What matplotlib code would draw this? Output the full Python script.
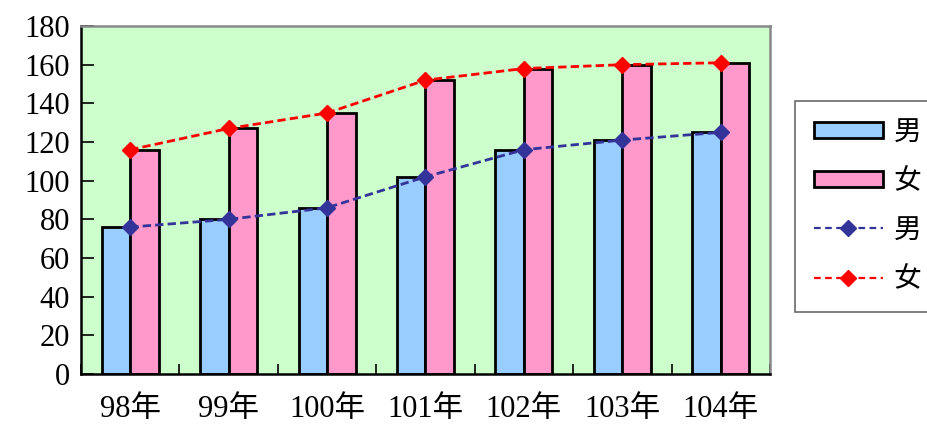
import matplotlib
matplotlib.use("Agg")
import matplotlib.pyplot as plt
import numpy as np
from matplotlib.patches import Patch
from matplotlib.lines import Line2D

categories = ["98年", "99年", "100年", "101年", "102年", "103年", "104年"]
male = [76, 80, 86, 102, 116, 121, 125]
female = [116, 127, 135, 152, 158, 160, 161]
yticks = [0, 20, 40, 60, 80, 100, 120, 140, 160, 180]

FAM = ["Liberation Serif", "Noto Sans CJK TC", "DejaVu Sans"]
plt.rcParams["font.family"] = FAM

fig = plt.figure(figsize=(9.27, 4.28), dpi=100)
ax = fig.add_axes([81 / 927, 1 - 374 / 428, (770 - 81) / 927, (374 - 26) / 428])
ax.set_facecolor("#CCFFCC")

x = np.arange(len(categories))
w = 0.29
ax.bar(x - w / 2, male, width=w, color="#99CCFF", edgecolor="black", linewidth=2, zorder=2)
ax.bar(x + w / 2, female, width=w, color="#FF99CC", edgecolor="black", linewidth=2, zorder=2)
ax.plot(x, male, linestyle="--", color="#333399", linewidth=2, marker="D", markersize=8,
        zorder=3, dashes=(3, 1.5))
ax.plot(x, female, linestyle="--", color="#FF0000", linewidth=2, marker="D", markersize=8,
        zorder=3, dashes=(3, 1.5))

ax.set_xlim(-0.5, len(categories) - 0.5)
ax.set_ylim(0, 180)
ax.set_yticks(yticks)
ax.set_yticklabels([str(v) for v in yticks], fontsize=22)
ax.set_xticks(x)
ax.set_xticklabels(categories, fontsize=22)
ax.tick_params(axis="x", length=0, pad=15)
ax.set_xticks(np.arange(len(categories) + 1) - 0.5, minor=True)
ax.tick_params(axis="x", which="minor", direction="in", length=7, width=1.2)
ax.tick_params(axis="y", direction="in", length=9, width=1.2, pad=8)

for s in ["left", "bottom"]:
    ax.spines[s].set_color("black")
    ax.spines[s].set_linewidth(1.8)
for s in ["top", "right"]:
    ax.spines[s].set_color("#888888")
    ax.spines[s].set_linewidth(1.8)

handles = [
    Patch(facecolor="#99CCFF", edgecolor="black", linewidth=2),
    Patch(facecolor="#FF99CC", edgecolor="black", linewidth=2),
    Line2D([], [], linestyle="--", color="#333399", linewidth=1.6, marker="D", markersize=8, dashes=(3, 2)),
    Line2D([], [], linestyle="--", color="#FF0000", linewidth=1.6, marker="D", markersize=8, dashes=(3, 2)),
]
labels = ["男", "女", "男", "女"]
leg = fig.legend(handles, labels, loc="upper left", bbox_to_anchor=(795 / 927, 1 - 101 / 428),
                 fontsize=20, frameon=True, fancybox=False, shadow=False,
                 handlelength=2.45, handleheight=0.5, handletextpad=0.4, labelspacing=0.85,
                 borderpad=0.7, borderaxespad=0)
leg.get_frame().set_edgecolor("#444444")
leg.get_frame().set_linewidth(1.2)

fig.savefig("out.png", dpi=100)
